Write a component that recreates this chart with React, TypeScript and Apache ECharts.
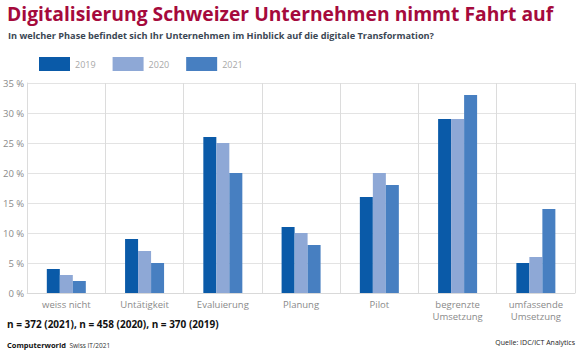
import React, { useEffect, useRef } from "react";
import * as echarts from "echarts";

const categories = ["weiss nicht", "Untätigkeit", "Evaluierung", "Planung", "Pilot", "begrenzte\nUmsetzung", "umfassende\nUmsetzung"];
const seriesNames = ["2019", "2020", "2021"];
const values2019 = [4, 9, 26, 11, 16, 29, 5];
const values2020 = [3, 7, 25, 10, 20, 29, 6];
const values2021 = [2, 5, 20, 8, 18, 33, 14];
const colors = ["#0a5aa8", "#8ea8d6", "#477fc1"];

const titleText = "Digitalisierung Schweizer Unternehmen nimmt Fahrt auf";
const subtitleText = "In welcher Phase befindet sich Ihr Unternehmen im Hinblick auf die digitale Transformation?";
const noteText = "n = 372 (2021), n = 458 (2020), n = 370 (2019)";
const sourceText = "Quelle: IDC/ICT Analytics";

export default function App() {
  const ref = useRef<HTMLDivElement>(null);
  useEffect(() => {
    const chart = echarts.init(ref.current!, null, { renderer: "svg" });
    const data = [values2019, values2020, values2021];
    chart.setOption({
      animation: false,
      backgroundColor: "#ffffff",
      textStyle: { fontFamily: "Open Sans" },
      legend: {
        left: 39,
        top: 57,
        padding: 0,
        itemWidth: 31,
        itemHeight: 14,
        itemGap: 17,
        icon: "rect",
        textStyle: { color: "#a8a8a8", fontSize: 9, fontFamily: "Open Sans" },
        data: seriesNames,
      },
      grid: { left: 27, right: 5, top: 83, bottom: 59 },
      xAxis: {
        type: "category",
        data: categories,
        axisLine: { show: true, lineStyle: { color: "#d9d9d9" } },
        axisTick: { show: false },
        splitLine: { show: true, lineStyle: { color: "#dcdcdc" } },
        axisLabel: { color: "#8a8a8a", fontSize: 9.5, margin: 5, lineHeight: 12, interval: 0 },
      },
      yAxis: {
        type: "value",
        min: 0,
        max: 35,
        interval: 5,
        axisLine: { show: true, lineStyle: { color: "#dcdcdc" } },
        axisTick: { show: false },
        splitLine: { show: true, lineStyle: { color: "#e3e3e3" } },
        axisLabel: { color: "#8a8a8a", fontSize: 9.5, margin: 3, formatter: "{value} %" },
      },
      series: seriesNames.map((n, i) => ({
        name: n,
        type: "bar",
        data: data[i],
        itemStyle: { color: colors[i] },
        barWidth: 13,
        barGap: "0%",
        barCategoryGap: "50%",
      })),
      graphic: [
        {
          type: "text", left: 7, top: 4,
          style: { text: titleText, fill: "#a50a3c", font: "bold 19.3px 'Open Sans'" },
        },
        {
          type: "text", left: 8, top: 31,
          style: { text: subtitleText, fill: "#3b4754", font: "bold 9.2px 'Open Sans'" },
        },
        {
          type: "text", left: 7, top: 319,
          style: { text: noteText, fill: "#111111", font: "bold 10px 'Open Sans'" },
        },
        {
          type: "text", left: 7, top: 339,
          style: {
            text: "{b|Computerworld} {n|Swiss IT/2021}",
            rich: {
              b: { fill: "#111111", font: "bold 7.5px 'Open Sans'" },
              n: { fill: "#333333", font: "6.5px 'Open Sans'" },
            },
          },
        },
        {
          type: "text", right: 5, top: 339,
          style: { text: sourceText, fill: "#222222", font: "7px 'Open Sans'" },
        },
      ],
    });
    return () => chart.dispose();
  }, []);
  return <div ref={ref} style={{ width: 580, height: 352, position: "fixed", left: 0, top: 0 }} />;
}
